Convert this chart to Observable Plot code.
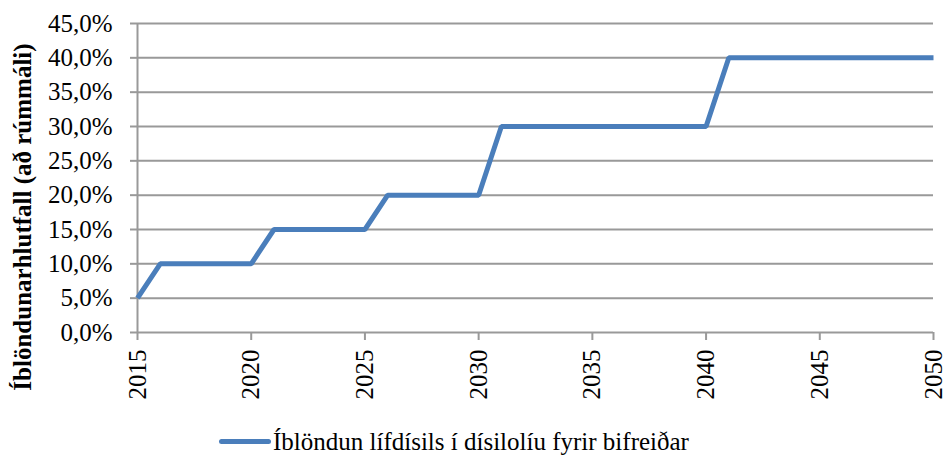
<!DOCTYPE html>
<html>
<head>
<meta charset="utf-8">
<script src="https://cdn.jsdelivr.net/npm/d3@7"></script>
<script src="https://cdn.jsdelivr.net/npm/@observablehq/plot@0.6"></script>
<style>
  html, body { margin: 0; padding: 0; background: #fff; }
  #chart { width: 943px; }
  #legend { height: 35px; display: flex; align-items: center; padding-left: 219px; padding-top: 4px;
            font-family: "Liberation Serif", "Times New Roman", serif; font-size: 25px; color: #000; }
  #legend .sw { width: 52px; height: 5px; border-radius: 3px; background: #4a7ebb; margin-right: 2px; }
</style>
</head>
<body>
<div id="chart"></div>
<script>
const years = [2015,2016,2017,2018,2019,2020,2021,2022,2023,2024,2025,2026,2027,2028,2029,2030,
               2031,2032,2033,2034,2035,2036,2037,2038,2039,2040,2041,2042,2043,2044,2045,2046,2047,2048,2049,2050];
const shares = [0.05,0.10,0.10,0.10,0.10,0.10,0.15,0.15,0.15,0.15,0.15,0.20,0.20,0.20,0.20,0.20,
                0.30,0.30,0.30,0.30,0.30,0.30,0.30,0.30,0.30,0.30,0.40,0.40,0.40,0.40,0.40,0.40,0.40,0.40,0.40,0.40];
const xTicks = [2015,2020,2025,2030,2035,2040,2045,2050];
const yTicks = [0,0.05,0.10,0.15,0.20,0.25,0.30,0.35,0.40,0.45];
const seriesName = "Íblöndun lífdísils í dísilolíu fyrir bifreiðar";
const yTitle = "Íblöndunarhlutfall (að rúmmáli)";

const data = years.map((y, i) => ({year: y, share: shares[i]}));
const fmt = d => (d * 100).toFixed(1).replace(".", ",") + "%";
const grid = "#999999";

const chart = Plot.plot({
  width: 943,
  height: 420,
  marginLeft: 137,
  marginRight: 10,
  marginTop: 23,
  marginBottom: 88,
  style: {fontFamily: "'Liberation Serif', 'Times New Roman', serif", fontSize: "25px", color: "#000", background: "#fff"},
  x: {domain: [2015, 2050], label: null},
  y: {domain: [0, 0.45], label: null},
  marks: [
    Plot.ruleY(yTicks, {stroke: grid, strokeWidth: 2}),
    Plot.ruleX([2015], {stroke: grid, strokeWidth: 2}),
    Plot.axisY({ticks: yTicks, tickFormat: fmt, tickSize: 7, tickPadding: 18, stroke: grid, strokeWidth: 2, strokeOpacity: 1, fill: "#000", label: null}),
    Plot.axisX({ticks: xTicks, tickFormat: d => String(d), tickSize: 8, tickPadding: 9, tickRotate: -90, stroke: grid, strokeWidth: 2, strokeOpacity: 1, fill: "#000", label: null}),
    Plot.line(data, {x: "year", y: "share", stroke: "#4a7ebb", strokeWidth: 5, strokeLinecap: "butt", strokeLinejoin: "miter"}),
    Plot.text([yTitle], {frameAnchor: "left", rotate: -90, textAnchor: "middle", dx: -115, dy: 39, fontWeight: "bold", fontSize: 25, fill: "#000"})
  ]
});
document.getElementById("chart").appendChild(chart);

const legend = document.createElement("div");
legend.id = "legend";
legend.innerHTML = `<span class="sw"></span><span>${seriesName}</span>`;
document.body.appendChild(legend);
</script>
</body>
</html>
